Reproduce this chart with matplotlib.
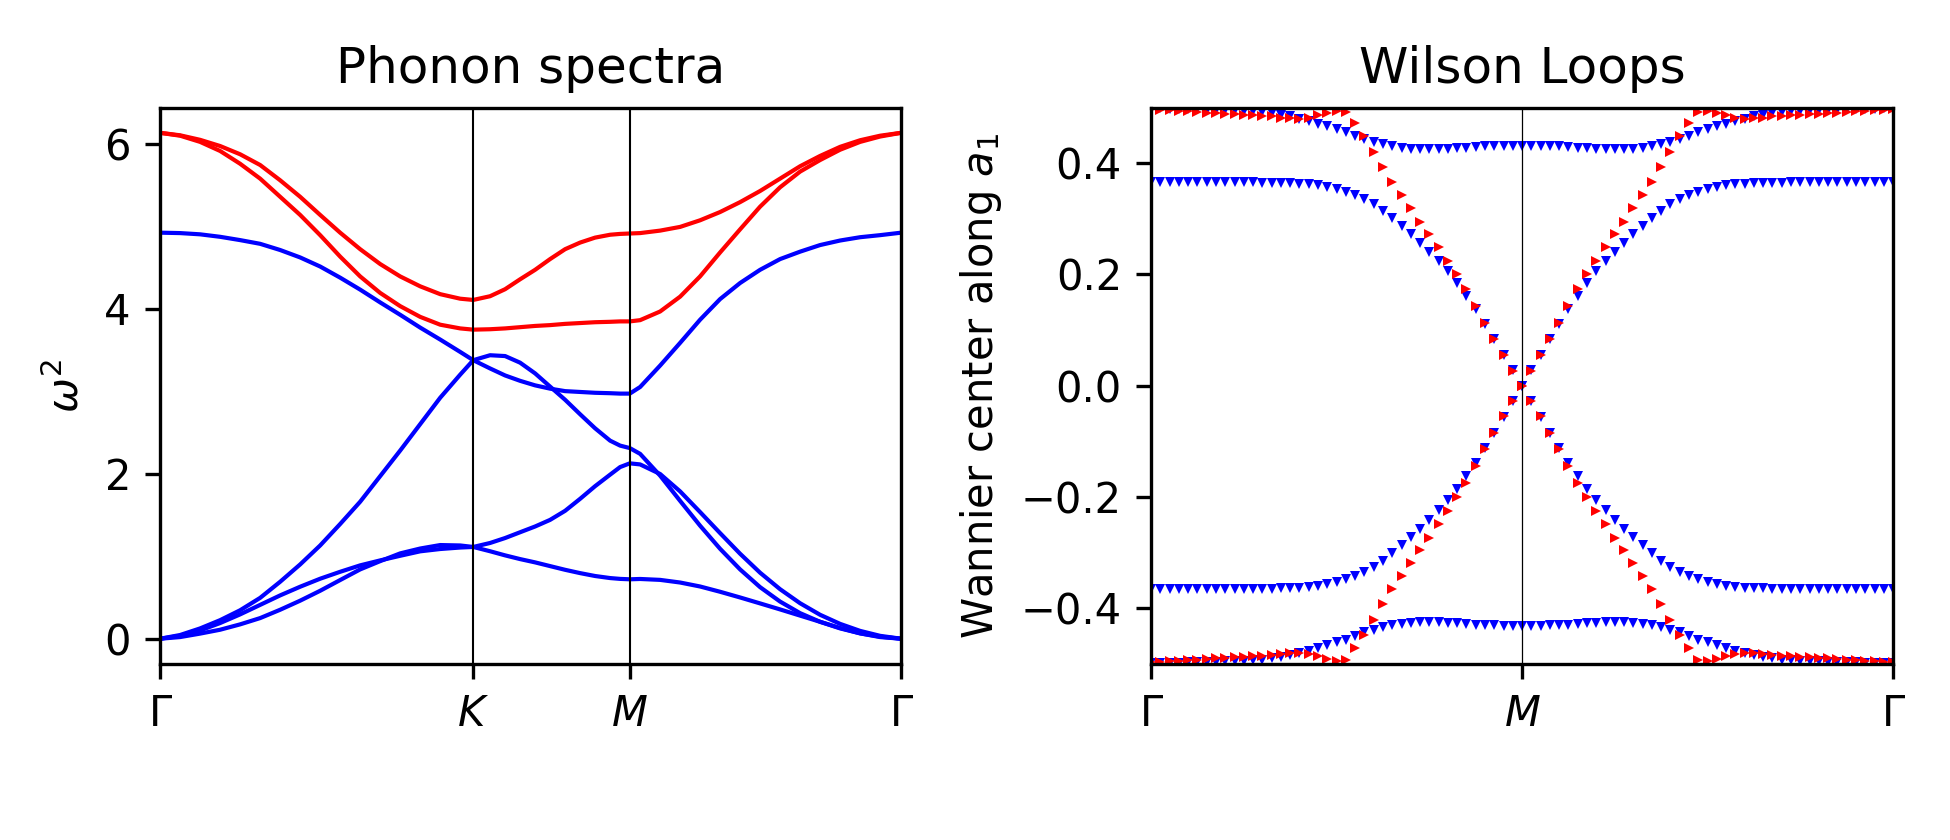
import numpy as np
import matplotlib
matplotlib.use("Agg")
import matplotlib.pyplot as plt

# ---------------- Phonon spectra data ----------------
k_path = [0.0, 0.027, 0.054, 0.081, 0.108, 0.135, 0.162, 0.189, 0.216, 0.243, 0.270, 0.297,
          0.324, 0.351, 0.378, 0.405, 0.4226,
          0.4453, 0.4656, 0.4858, 0.5061, 0.5263, 0.5466, 0.5668, 0.5870, 0.6073, 0.6208, 0.6339,
          0.6478, 0.6748, 0.7018, 0.7287, 0.7557, 0.7827, 0.8097, 0.8367, 0.8637, 0.8907,
          0.9177, 0.9447, 0.9717, 1.0]
k_ticks = [0.0, 0.4226, 0.6339, 1.0]
k_labels = [r'$\Gamma$', r'$K$', r'$M$', r'$\Gamma$']

red_upper = [6.13, 6.10, 6.045, 5.97, 5.87, 5.74, 5.555, 5.355, 5.135, 4.92, 4.72, 4.54,
             4.39, 4.27, 4.175, 4.12, 4.105,
             4.15, 4.235, 4.355, 4.47, 4.60, 4.72, 4.80, 4.86, 4.895, 4.905, 4.91,
             4.915, 4.945, 4.99, 5.07, 5.17, 5.29, 5.425, 5.575, 5.725, 5.85, 5.96, 6.04, 6.095, 6.13]
red_lower = [6.13, 6.095, 6.02, 5.91, 5.755, 5.575, 5.355, 5.135, 4.89, 4.63, 4.39, 4.19,
             4.03, 3.90, 3.805, 3.76, 3.745,
             3.75, 3.76, 3.775, 3.79, 3.80, 3.815, 3.825, 3.835, 3.84, 3.845, 3.845,
             3.86, 3.965, 4.145, 4.39, 4.68, 4.96, 5.235, 5.47, 5.66, 5.80, 5.925, 6.02, 6.085, 6.13]
blue_a = [4.92, 4.915, 4.90, 4.87, 4.83, 4.785, 4.71, 4.62, 4.51, 4.375, 4.23, 4.075,
          3.925, 3.77, 3.625, 3.475, 3.375,
          3.275, 3.19, 3.125, 3.07, 3.03, 3.0, 2.99, 2.98, 2.975, 2.97, 2.97,
          3.05, 3.31, 3.585, 3.865, 4.115, 4.31, 4.47, 4.6, 4.69, 4.77, 4.825, 4.865, 4.89, 4.92]
blue_b = [0.0, 0.045, 0.125, 0.225, 0.345, 0.495, 0.69, 0.90, 1.13, 1.39, 1.66, 1.97,
          2.28, 2.60, 2.92, 3.20, 3.375,
          3.435, 3.425, 3.345, 3.215, 3.055, 2.895, 2.72, 2.55, 2.40, 2.34, 2.31,
          2.24, 1.976, 1.67, 1.37, 1.09, 0.84, 0.625, 0.45, 0.31, 0.205, 0.125, 0.065, 0.025, 0.0]
blue_c = [0.0, 0.035, 0.10, 0.19, 0.295, 0.41, 0.525, 0.63, 0.727, 0.811, 0.889, 0.949,
          1.005, 1.059, 1.087, 1.105, 1.112,
          1.16, 1.22, 1.29, 1.36, 1.44, 1.55, 1.695, 1.848, 1.988, 2.08, 2.125,
          2.112, 1.996, 1.785, 1.535, 1.28, 1.03, 0.80, 0.60, 0.43, 0.29, 0.18, 0.095, 0.035, 0.0]
blue_d = [0.0, 0.02, 0.062, 0.109, 0.174, 0.25, 0.351, 0.461, 0.581, 0.711, 0.84, 0.94,
          1.034, 1.093, 1.135, 1.13, 1.112,
          1.06, 1.01, 0.965, 0.925, 0.88, 0.835, 0.795, 0.76, 0.735, 0.725, 0.72,
          0.724, 0.713, 0.681, 0.633, 0.569, 0.50, 0.428, 0.355, 0.28, 0.205, 0.13, 0.065, 0.02, 0.0]

# ---------------- Wilson loop data ----------------
wl_k = np.linspace(0.0, 1.0, 81)
wl_ticks = [0.0, 0.5, 1.0]
wl_labels = [r'$\Gamma$', r'$M$', r'$\Gamma$']

wl_blue_1 = [0.499, 0.499, 0.498, 0.498, 0.497, 0.497, 0.496, 0.496, 0.495, 0.495,
             0.494, 0.493, 0.492, 0.490, 0.487, 0.484, 0.480, 0.476, 0.471, 0.466,
             0.461, 0.456, 0.449, 0.443, 0.438, 0.434, 0.430, 0.428, 0.426, 0.425,
             0.425, 0.425, 0.426, 0.427, 0.428, 0.429, 0.430, 0.430, 0.431, 0.431,
             0.431,
             0.431, 0.431, 0.430, 0.430, 0.429, 0.428, 0.427, 0.426, 0.425, 0.425,
             0.425, 0.426, 0.428, 0.430, 0.434, 0.438, 0.443, 0.449, 0.456, 0.461,
             0.466, 0.471, 0.476, 0.480, 0.484, 0.487, 0.490, 0.492, 0.493, 0.494,
             0.495, 0.495, 0.496, 0.496, 0.497, 0.497, 0.498, 0.498, 0.499, 0.499]
wl_blue_2 = [0.366, 0.366, 0.366, 0.366, 0.366, 0.366, 0.366, 0.366, 0.366, 0.366,
             0.366, 0.366, 0.365, 0.365, 0.364, 0.364, 0.363, 0.362, 0.360, 0.357,
             0.353, 0.348, 0.342, 0.335, 0.326, 0.314, 0.301, 0.287, 0.272, 0.257,
             0.241, 0.224, 0.206, 0.185, 0.162, 0.138, 0.111, 0.084, 0.056, 0.028,
             0.000,
             -0.028, -0.056, -0.084, -0.111, -0.138, -0.162, -0.185, -0.206, -0.224, -0.241,
             -0.257, -0.272, -0.287, -0.301, -0.314, -0.326, -0.335, -0.342, -0.348, -0.353,
             -0.357, -0.360, -0.362, -0.363, -0.364, -0.364, -0.365, -0.365, -0.366, -0.366,
             -0.366, -0.366, -0.366, -0.366, -0.366, -0.366, -0.366, -0.366, -0.366, -0.366]
wl_blue_3 = [-0.366, -0.366, -0.366, -0.366, -0.366, -0.366, -0.366, -0.366, -0.366, -0.366,
             -0.366, -0.366, -0.365, -0.365, -0.364, -0.364, -0.363, -0.362, -0.360, -0.357,
             -0.353, -0.348, -0.342, -0.335, -0.326, -0.314, -0.301, -0.287, -0.272, -0.257,
             -0.241, -0.224, -0.206, -0.185, -0.162, -0.138, -0.111, -0.084, -0.056, -0.028,
             0.000,
             0.028, 0.056, 0.084, 0.111, 0.138, 0.162, 0.185, 0.206, 0.224, 0.241,
             0.257, 0.272, 0.287, 0.301, 0.314, 0.326, 0.335, 0.342, 0.348, 0.353,
             0.357, 0.360, 0.362, 0.363, 0.364, 0.364, 0.365, 0.365, 0.366, 0.366,
             0.366, 0.366, 0.366, 0.366, 0.366, 0.366, 0.366, 0.366, 0.366, 0.366]
wl_blue_4 = [-0.499, -0.499, -0.498, -0.498, -0.497, -0.497, -0.496, -0.496, -0.495, -0.495,
             -0.494, -0.493, -0.492, -0.490, -0.487, -0.484, -0.480, -0.476, -0.471, -0.466,
             -0.461, -0.456, -0.449, -0.443, -0.438, -0.434, -0.430, -0.428, -0.426, -0.425,
             -0.425, -0.425, -0.426, -0.427, -0.428, -0.429, -0.430, -0.430, -0.431, -0.431,
             -0.431,
             -0.431, -0.431, -0.430, -0.430, -0.429, -0.428, -0.427, -0.426, -0.425, -0.425,
             -0.425, -0.426, -0.428, -0.430, -0.434, -0.438, -0.443, -0.449, -0.456, -0.461,
             -0.466, -0.471, -0.476, -0.480, -0.484, -0.487, -0.490, -0.492, -0.493, -0.494,
             -0.495, -0.495, -0.496, -0.496, -0.497, -0.497, -0.498, -0.498, -0.499, -0.499]
wl_red_1 = [0.497, 0.496, 0.495, 0.494, 0.493, 0.492, 0.491, 0.490, 0.489, 0.488,
            0.487, 0.486, 0.485, 0.484, 0.482, 0.481, 0.480, 0.482, 0.486, 0.491,
            0.494, 0.492, 0.472, 0.448, 0.420, 0.393, 0.366, 0.342, 0.319, 0.295,
            0.273, 0.249, 0.225, 0.200, 0.174, 0.144, 0.113, 0.084, 0.055, 0.027,
            0.000,
            -0.027, -0.055, -0.084, -0.113, -0.144, -0.174, -0.200, -0.225, -0.249, -0.273,
            -0.295, -0.319, -0.342, -0.366, -0.393, -0.420, -0.448, -0.472, -0.492, -0.494,
            -0.491, -0.486, -0.482, -0.480, -0.481, -0.482, -0.484, -0.485, -0.486, -0.487,
            -0.488, -0.489, -0.490, -0.491, -0.492, -0.493, -0.494, -0.495, -0.496, -0.497]
wl_red_2 = [-0.497, -0.496, -0.495, -0.494, -0.493, -0.492, -0.491, -0.490, -0.489, -0.488,
            -0.487, -0.486, -0.485, -0.484, -0.482, -0.481, -0.480, -0.482, -0.486, -0.491,
            -0.494, -0.492, -0.472, -0.448, -0.420, -0.393, -0.366, -0.342, -0.319, -0.295,
            -0.273, -0.249, -0.225, -0.200, -0.174, -0.144, -0.113, -0.084, -0.055, -0.027,
            0.000,
            0.027, 0.055, 0.084, 0.113, 0.144, 0.174, 0.200, 0.225, 0.249, 0.273,
            0.295, 0.319, 0.342, 0.366, 0.393, 0.420, 0.448, 0.472, 0.492, 0.494,
            0.491, 0.486, 0.482, 0.480, 0.481, 0.482, 0.484, 0.485, 0.486, 0.487,
            0.488, 0.489, 0.490, 0.491, 0.492, 0.493, 0.494, 0.495, 0.496, 0.497]

# ---------------- Figure ----------------
fig = plt.figure(figsize=(6.5, 2.8), dpi=300)
ax1 = fig.add_axes([0.0821, 0.2095, 0.3800, 0.6625])
ax2 = fig.add_axes([0.5903, 0.2095, 0.3805, 0.6625])

for band in (blue_a, blue_b, blue_c, blue_d):
    ax1.plot(k_path, band, color='b', lw=1.0)
for band in (red_upper, red_lower):
    ax1.plot(k_path, band, color='r', lw=1.0)
for kv in k_ticks[1:3]:
    ax1.axvline(kv, color='k', lw=0.5)
ax1.set_xlim(k_ticks[0], k_ticks[-1])
ax1.set_xticks(k_ticks)
ax1.set_xticklabels(k_labels)
ax1.set_ylabel(r'$\omega^2$')
ax1.set_title('Phonon spectra')

for series in (wl_blue_1, wl_blue_2, wl_blue_3, wl_blue_4):
    ax2.plot(wl_k, series, linestyle='none', marker='v', color='b', ms=2.3, mew=0)
for series in (wl_red_1, wl_red_2):
    ax2.plot(wl_k, series, linestyle='none', marker='>', color='r', ms=2.3, mew=0)
ax2.axvline(wl_ticks[1], color='k', lw=0.3)
ax2.set_xlim(wl_ticks[0], wl_ticks[-1])
ax2.set_ylim(-0.5, 0.5)
ax2.set_xticks(wl_ticks)
ax2.set_xticklabels(wl_labels)
ax2.set_ylabel(r'Wannier center along $a_1$')
ax2.set_title('Wilson Loops')

fig.savefig('out.png', dpi=300)
